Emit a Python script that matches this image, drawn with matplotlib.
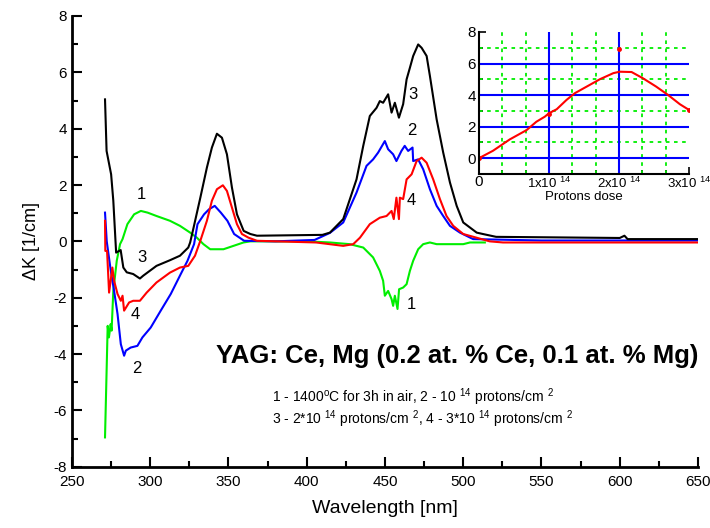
import numpy as np
import matplotlib
matplotlib.use('Agg')
import matplotlib.pyplot as plt
from matplotlib.ticker import MultipleLocator, FixedLocator

plt.rcParams['font.family'] = ['Liberation Sans', 'DejaVu Sans']
plt.rcParams['mathtext.fontset'] = 'custom'
plt.rcParams['mathtext.rm'] = 'Liberation Sans'
plt.rcParams['axes.unicode_minus'] = False

# curve 1 - annealed 1400C (green)
wl1 = [271.1, 272.8, 273.6, 274.7, 275.3, 276.4, 278.6, 280.7, 282.3, 285.4, 289.7, 294.0, 298.3,
       304.0, 312.6, 319.0, 325.5, 329.8, 334.0, 338.3, 346.8, 353.2, 359.6, 364.0, 400.0, 414.8,
       427.5, 436.1, 442.4, 446.7, 448.8, 449.9, 452.0, 454.2, 455.2, 456.3, 458.0, 459.0, 461.6,
       463.8, 465.9, 468.0, 471.2, 474.4, 478.7, 483.0, 500.0, 504.3, 513.8]
k1 = [-6.96, -3.0, -3.41, -2.94, -3.17, -1.76, -0.69, -0.1, 0.08, 0.61, 0.96, 1.08, 1.02,
      0.9, 0.73, 0.55, 0.31, 0.13, -0.1, -0.28, -0.28, -0.16, -0.04, 0.0, 0.0, -0.04,
      -0.1, -0.22, -0.57, -1.05, -1.4, -1.93, -1.76, -2.05, -2.29, -1.93, -2.4, -1.7, -1.64,
      -1.52, -1.05, -0.69, -0.28, -0.1, -0.04, -0.1, -0.1, -0.04, -0.04]

# curve 2 - 1e14 protons/cm2 (blue)
wl2 = [271.1, 272.2, 274.8, 276.9, 279.1, 281.2, 283.3, 284.4, 287.5, 291.8, 295.0, 300.3, 306.7,
       313.1, 319.5, 323.8, 328.0, 330.2, 334.4, 337.6, 341.2, 345.1, 349.3, 353.6, 360.0, 380.0,
       405.0, 414.8, 423.3, 431.8, 438.2, 442.4, 445.6, 449.9, 452.0, 455.2, 457.3, 460.5, 462.6,
       464.8, 467.6, 468.0, 471.2, 474.4, 478.7, 483.0, 487.2, 491.5, 497.9, 506.3, 550.0, 650.0]
k2 = [1.02, 0.0, -1.05, -1.76, -2.58, -3.65, -4.06, -3.88, -3.77, -3.71, -3.41, -3.06, -2.46,
      -1.87, -1.16, -0.69, -0.1, 0.61, 0.96, 1.14, 1.26, 1.02, 0.73, 0.26, 0.02, 0.0,
      0.05, 0.3, 0.67, 1.73, 2.68, 2.91, 3.15, 3.56, 3.27, 3.09, 2.85, 3.21, 3.39,
      3.21, 3.33, 2.85, 2.91, 2.56, 1.85, 1.26, 0.9, 0.55, 0.31, 0.08, 0.03, 0.03]

# curve 3 - 2e14 protons/cm2 (black)
wl3 = [271.1, 272.1, 275.0, 276.4, 278.2, 281.1, 282.8, 285.0, 289.1, 293.4, 295.5, 304.0, 312.6,
       319.0, 324.3, 325.5, 327.7, 332.0, 336.2, 339.4, 342.6, 345.8, 349.0, 352.2, 355.4, 359.7,
       364.0, 368.2, 410.0, 414.8, 423.3, 431.8, 436.1, 440.3, 444.6, 446.7, 448.8, 452.0, 454.2,
       456.3, 458.9, 461.6, 463.8, 465.9, 468.0, 471.2, 473.4, 476.6, 478.7, 483.0, 487.2, 491.5,
       495.8, 500.0, 508.6, 512.6, 521.0, 600.0, 603.0, 605.0, 650.0]
k3 = [5.04, 3.21, 2.38, 1.44, -0.4, -0.31, -0.93, -1.1, -1.16, -1.32, -1.22, -0.87, -0.67,
      -0.51, -0.22, -0.04, 0.49, 1.55, 2.62, 3.33, 3.82, 3.68, 3.09, 1.91, 0.96, 0.37,
      0.26, 0.2, 0.23, 0.31, 0.79, 2.2, 3.39, 4.45, 4.74, 4.98, 4.92, 5.22, 4.57,
      4.92, 4.39, 4.87, 5.75, 6.16, 6.58, 6.99, 6.87, 6.58, 5.87, 4.33, 3.15, 2.09,
      1.26, 0.67, 0.31, 0.26, 0.16, 0.12, 0.2, 0.08, 0.08]

# curve 4 - 3e14 protons/cm2 (red)
wl4 = [271.1, 271.3, 272.4, 273.7, 275.8, 276.9, 279.1, 281.2, 282.3, 283.3, 286.5, 289.1, 293.4,
       297.7, 304.0, 312.6, 319.0, 324.3, 328.6, 332.0, 336.2, 339.4, 342.6, 346.4, 349.0, 352.2,
       355.4, 358.6, 362.8, 368.2, 406.0, 423.3, 429.7, 434.0, 440.3, 446.7, 451.0, 454.2, 455.6,
       457.3, 458.9, 459.5, 461.6, 463.8, 467.0, 470.2, 473.4, 476.6, 480.8, 485.1, 489.3, 493.6,
       500.0, 516.9, 525.4, 650.0]
k4 = [0.73, -0.34, -0.34, -1.82, -0.93, -1.4, -1.87, -2.11, -1.93, -2.46, -2.17, -2.11, -2.11,
      -1.82, -1.46, -1.11, -0.93, -0.87, -0.51, 0.02, 0.73, 1.44, 1.85, 1.99, 1.79, 1.2,
      0.61, 0.26, 0.13, 0.02, -0.04, -0.16, -0.1, 0.13, 0.61, 0.84, 0.9, 1.08, 0.79,
      1.55, 0.79, 1.55, 1.5, 2.2, 2.38, 2.85, 2.97, 2.79, 2.2, 1.5, 0.9, 0.55,
      0.26, 0.0, -0.04, -0.04]

colors = ['#00ee00', '#0000ff', '#000000', '#ff0000']

# curve number labels (wavelength, dK)
lab_names = ['1', '3', '4', '2', '3', '2', '4', '1']
lab_wl = [294.5, 294.5, 290.5, 291.6, 468.0, 467.0, 467.0, 467.0]
lab_k = [1.67, -0.57, -2.58, -4.53, 5.22, 3.92, 1.44, -2.23]

# inset: dK vs proton dose
dose_fit = [0, 0.2, 0.44, 0.68, 0.82, 0.94, 1.0, 1.11, 1.25, 1.37, 1.54, 1.73, 1.92, 2.01,
            2.18, 2.34, 2.53, 2.7, 2.87, 3.0]
val_fit = [0, 0.47, 1.19, 1.78, 2.31, 2.63, 2.85, 3.1, 3.69, 4.12, 4.54, 5.01, 5.39, 5.48,
           5.46, 5.07, 4.54, 4.01, 3.42, 3.06]
dose_pts = [0, 1.0, 2.0, 3.0]
val_pts = [0, 2.8, 6.92, 3.06]
dose_labels = ['0', r'1x10 $^{14}$', r'2x10 $^{14}$', r'3x10 $^{14}$']

fig = plt.figure(figsize=(7.10, 5.28), dpi=100)
ax = fig.add_axes([0.1014, 0.1161, 0.8817, 0.8536])

for wl, k, c in zip([wl1, wl2, wl3, wl4], [k1, k2, k3, k4], colors):
    ax.plot(wl, k, color=c, lw=1.5)

for n, x, y in zip(lab_names, lab_wl, lab_k):
    ax.text(x, y, n, fontsize=12, ha='center', va='center')

ax.set_xlim(250, 650)
ax.set_ylim(-8, 8)
ax.xaxis.set_major_locator(MultipleLocator(50))
ax.xaxis.set_minor_locator(MultipleLocator(25))
ax.yaxis.set_major_locator(MultipleLocator(2))
ax.yaxis.set_minor_locator(MultipleLocator(1))
ax.tick_params(which='both', direction='in', width=1.5, labelsize=11)
ax.tick_params(which='major', length=7)
ax.tick_params(which='minor', length=4)
ax.tick_params(axis='x', pad=6)
for s in ['top', 'right']:
    ax.spines[s].set_visible(False)
for s in ['left', 'bottom']:
    ax.spines[s].set_linewidth(2)
ax.set_xlabel('Wavelength [nm]', fontsize=14, labelpad=8)
ax.set_ylabel('ΔK [1/cm]', fontsize=13, labelpad=10)

ax.text(496, -4.06, 'YAG: Ce, Mg (0.2 at. % Ce, 0.1 at. % Mg)', fontsize=18.5,
        fontweight='bold', ha='center', va='center')
ax.text(377.5, -5.55, r'1 - 1400$^{\rm o}$C for 3h in air, 2 - 10 $^{14}$ protons/cm $^2$',
        fontsize=10, ha='left', va='center')
ax.text(377.5, -6.3, r'3 - 2*10 $^{14}$ protons/cm $^2$, 4 - 3*10 $^{14}$ protons/cm $^2$',
        fontsize=10, ha='left', va='center')

# inset
ins = fig.add_axes([0.6746, 0.6705, 0.2958, 0.269])
ins.set_xlim(0, 3)
ins.set_ylim(-1, 8)
for y in [1, 3, 5, 7]:
    ins.axhline(y, color='#00ee00', lw=1.3, ls=(0, (2, 2.5)))
for x in [1/3, 2/3, 4/3, 5/3, 7/3, 8/3]:
    ins.axvline(x, color='#00ee00', lw=1.3, ls=(0, (2, 2.5)))
for y in [0, 2, 4, 6]:
    ins.axhline(y, color='#0000ff', lw=1.5)
for x in [1, 2]:
    ins.axvline(x, color='#0000ff', lw=1.5)
ins.plot(dose_fit, val_fit, color='#ff0000', lw=1.5)
ins.plot(dose_pts, val_pts, 'o', color='#ff0000', ms=2.5)
ins.xaxis.set_major_locator(FixedLocator([0, 1, 2, 3]))
ins.xaxis.set_minor_locator(FixedLocator([1/3, 2/3, 4/3, 5/3, 7/3, 8/3]))
ins.yaxis.set_major_locator(MultipleLocator(2))
ins.yaxis.set_minor_locator(MultipleLocator(1))
ins.set_xticklabels(dose_labels)
ins.tick_params(which='both', direction='in', width=1.2)
ins.tick_params(which='major', length=5)
ins.tick_params(which='minor', length=3)
ins.tick_params(axis='y', labelsize=11, pad=2)
ins.tick_params(axis='x', labelsize=9.5, pad=1)
for lbl in ins.get_xticklabels():
    lbl.set_fontsize(11 if lbl.get_text() == '0' else 9.5)
for s in ['top', 'right']:
    ins.spines[s].set_visible(False)
for s in ['left', 'bottom']:
    ins.spines[s].set_linewidth(1.5)
ins.set_xlabel('Protons dose', fontsize=9.5, labelpad=0)
ins.patch.set_alpha(0)

fig.savefig('out.png', dpi=100)
